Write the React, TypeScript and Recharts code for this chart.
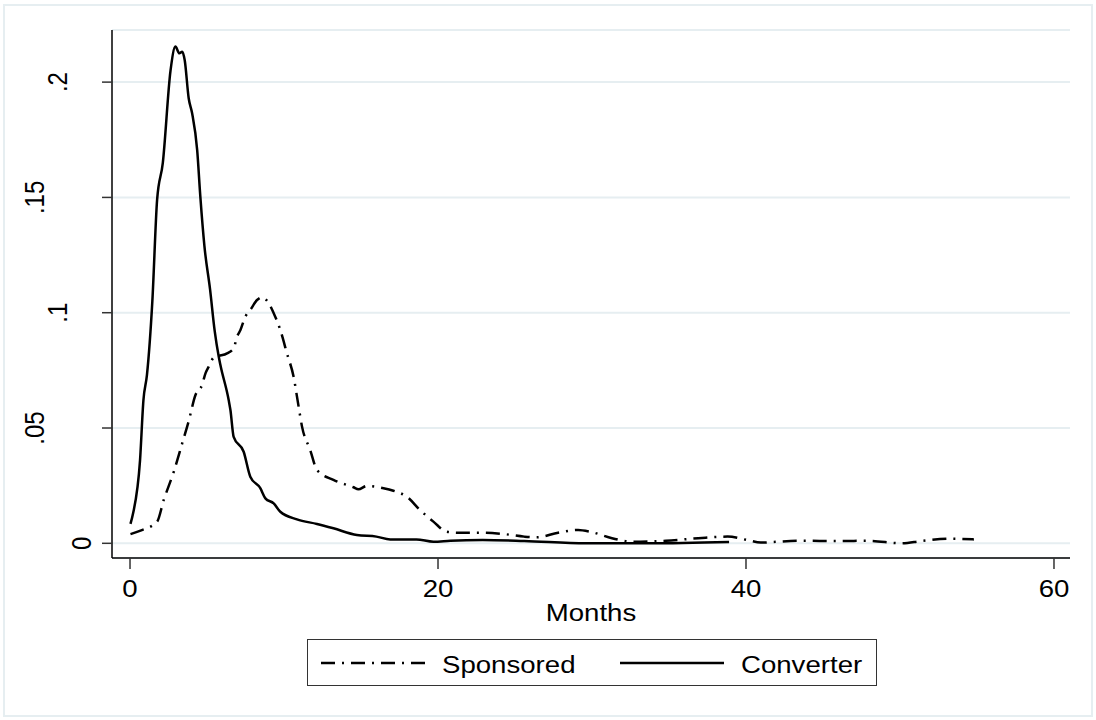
import { LineChart, Line, XAxis, YAxis, CartesianGrid } from 'recharts'

const FONT = '"Liberation Sans", Arial, sans-serif'
const STRETCH = 1.15

// x axis
const monthTicks = [0, 20, 40, 60]
// y axis
const densityTicks = [0, 0.05, 0.1, 0.15, 0.2]
const densityTickLabels = ['0', '.05', '.1', '.15', '.2']

// Sponsored (dash-dot)
const sponsoredMonths = [
  0.03, 0.68, 1.76, 2.19, 2.84, 3.39, 3.81, 4.25, 4.68, 4.9, 5.11, 5.43, 5.76, 6.3, 6.73, 6.95,
  7.17, 7.49, 7.81, 8.25, 8.59, 8.9, 9.33, 9.76, 10.19, 10.62, 10.95, 11.17, 11.7, 12.14, 13.21,
  14.51, 14.83, 15.38, 16.46, 17.1, 17.98, 18.84, 19.7, 20.57, 21.3, 22.9, 24.3, 25.6, 26.4, 27.8,
  29.1, 29.9, 31.3, 32.6, 34.8, 36.9, 38.8, 40.1, 40.96, 41.8, 43.4, 46.1, 47.95, 50.1, 51.4, 53.3,
  54.8,
]
const sponsoredDensity = [
  0.004, 0.0055, 0.0094, 0.0188, 0.031, 0.0434, 0.053, 0.0643, 0.0687, 0.0737, 0.0766, 0.0805,
  0.0812, 0.0824, 0.0846, 0.0896, 0.0925, 0.0983, 0.1012, 0.1055, 0.1067, 0.1052, 0.0998, 0.0925,
  0.0824, 0.0723, 0.0592, 0.0506, 0.0405, 0.0318, 0.0275, 0.0243, 0.0234, 0.0249, 0.0239, 0.0228,
  0.0202, 0.0144, 0.0094, 0.005, 0.0046, 0.0046, 0.004, 0.0029, 0.0026, 0.0046, 0.0058, 0.005,
  0.0022, 0.0007, 0.0011, 0.0022, 0.0029, 0.0014, 0.0003, 0.0006, 0.0011, 0.001, 0.0011, 0.0,
  0.001, 0.002, 0.0017,
]

// Converter (solid)
const converterMonths = [
  0.03, 0.2, 0.65, 0.87, 1.1, 1.45, 1.76, 2.13, 2.63, 2.95, 3.2, 3.39, 3.55, 3.81, 4.03, 4.36, 4.57,
  4.83, 5.2, 5.5, 5.76, 5.87, 6.41, 6.52, 6.73, 7.38, 7.81, 8.46, 8.79, 9.33, 9.76, 10.84, 12.14,
  13.21, 14.73, 16.0, 16.9, 18.6, 19.7, 20.8, 22.9, 25.6, 29.6, 33.7, 38.9,
]
const converterDensity = [
  0.0084, 0.013, 0.036, 0.062, 0.073, 0.105, 0.149, 0.165, 0.205, 0.2154, 0.2125, 0.2132, 0.2096,
  0.193, 0.1866, 0.1706, 0.15, 0.129, 0.11, 0.092, 0.081, 0.0773, 0.062, 0.0578, 0.0462, 0.0397,
  0.0289, 0.0239, 0.0195, 0.0173, 0.0137, 0.0104, 0.0084, 0.0065, 0.0036, 0.0029, 0.0017, 0.0017,
  0.0007, 0.0011, 0.0014, 0.001, 0.0, 0.0, 0.0006,
]

const SPONSORED_DASH = '14 7 2 7'

const sponsoredData = sponsoredMonths.map((m, i) => ({ month: m, density: sponsoredDensity[i] }))
const converterData = converterMonths.map((m, i) => ({ month: m, density: converterDensity[i] }))

const series = [
  { name: 'Sponsored', data: sponsoredData, dash: SPONSORED_DASH },
  { name: 'Converter', data: converterData, dash: undefined },
]

function XTick({ x, y, payload }: any) {
  return (
    <text
      transform={`translate(${x},${y + 28}) scale(${STRETCH},1)`}
      textAnchor="middle"
      fontSize={24}
      fontFamily={FONT}
      fill="#000"
    >
      {payload.value}
    </text>
  )
}

function YTick({ x, y, payload }: any) {
  const idx = densityTicks.indexOf(payload.value)
  const label = densityTickLabels[idx] ?? String(payload.value)
  const bx = x + 12 - 23.5 * label.length
  return (
    <text
      transform={`translate(${bx},${y}) scale(${STRETCH},1) rotate(-90)`}
      textAnchor="middle"
      fontSize={24}
      fontFamily={FONT}
      fill="#000"
    >
      {label}
    </text>
  )
}

function MonthsLabel({ viewBox }: any) {
  return (
    <text
      transform={`translate(${viewBox.x + viewBox.width / 2},${viewBox.y + 63}) scale(${STRETCH},1)`}
      textAnchor="middle"
      fontSize={24}
      fontFamily={FONT}
      fill="#000"
    >
      Months
    </text>
  )
}

function ChartLegend() {
  const itemX = [13, 312]
  return (
    <div
      style={{
        position: 'absolute',
        left: 307,
        top: 639,
        width: 570,
        height: 47,
        boxSizing: 'border-box',
        border: '1px solid #333',
        background: '#fff',
      }}
    >
      <svg width={568} height={45} style={{ display: 'block' }}>
        {series.map((s, i) => (
          <g key={s.name}>
            <line
              x1={itemX[i]}
              x2={itemX[i] + 104}
              y1={23}
              y2={23}
              stroke="#000"
              strokeWidth={2.5}
              strokeDasharray={s.dash}
            />
            <text
              transform={`translate(${itemX[i] + 121},33) scale(${STRETCH},1)`}
              fontSize={24}
              fontFamily={FONT}
              fill="#000"
            >
              {s.name}
            </text>
          </g>
        ))}
      </svg>
    </div>
  )
}

export default function App() {
  return (
    <div
      style={{
        position: 'absolute',
        left: 0,
        top: 0,
        width: 1096,
        height: 720,
        background: '#fff',
        overflow: 'hidden',
      }}
    >
      <div
        style={{
          position: 'absolute',
          left: 3,
          top: 4,
          width: 1090,
          height: 713,
          boxSizing: 'border-box',
          border: '2px solid #e6eef1',
        }}
      />
      <div style={{ position: 'absolute', left: 0, top: 0 }}>
        <LineChart
          width={1096}
          height={720}
          margin={{ top: 30, right: 26, bottom: 92, left: 0 }}
        >
          <CartesianGrid vertical={false} stroke="#e6eef1" strokeWidth={2} />
          <XAxis
            type="number"
            dataKey="month"
            domain={[-1.17, 61.04]}
            allowDataOverflow
            ticks={monthTicks}
            height={70}
            tickSize={11}
            tickMargin={0}
            stroke="#000"
            strokeWidth={1.5}
            tickLine={{ stroke: '#333', strokeWidth: 1.5 }}
            tick={<XTick />}
            label={<MonthsLabel />}
          />
          <YAxis
            type="number"
            dataKey="density"
            domain={[-0.00637, 0.2226]}
            allowDataOverflow
            ticks={densityTicks}
            width={112}
            tickSize={10}
            tickMargin={0}
            stroke="#000"
            strokeWidth={1.5}
            tickLine={{ stroke: '#333', strokeWidth: 1.5 }}
            tick={<YTick />}
          />
          {series.map((s) => (
            <Line
              key={s.name}
              name={s.name}
              data={s.data}
              dataKey="density"
              type="monotone"
              stroke="#000"
              strokeWidth={2.5}
              strokeDasharray={s.dash}
              dot={false}
              activeDot={false}
              isAnimationActive={false}
            />
          ))}
        </LineChart>
      </div>
      <ChartLegend />
    </div>
  )
}
